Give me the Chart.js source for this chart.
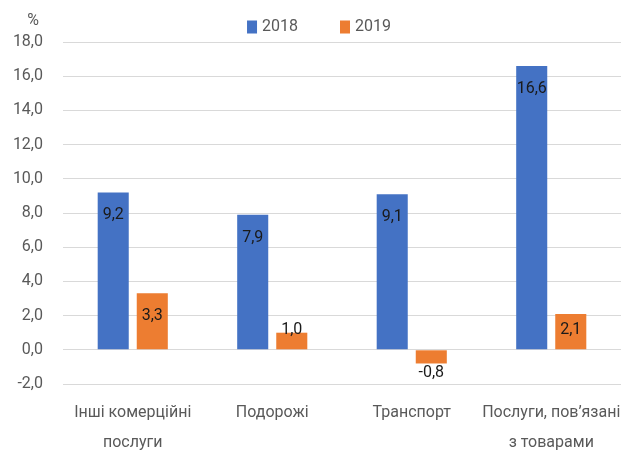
<!DOCTYPE html>
<html>
<head>
<meta charset="utf-8">
<script src="https://cdn.jsdelivr.net/npm/chart.js@4/dist/chart.umd.min.js"></script>
<style>
html,body{margin:0;padding:0;background:#fff;}
#wrap{width:621px;height:453px;position:relative;}
</style>
</head>
<body>
<div id="wrap"><canvas id="c" width="621" height="453"></canvas></div>
<script>
const categories = [["Інші комерційні","послуги"],["Подорожі"],["Транспорт"],["Послуги, пов’язані","з товарами"]];
const seriesNames = ["2018","2019"];
const values2018 = [9.2, 7.9, 9.1, 16.6];
const values2019 = [3.3, 1.0, -0.8, 2.1];
const yTicks = [-2, 0, 2, 4, 6, 8, 10, 12, 14, 16, 18];
const unitLabel = "%";

const FONT = "'Liberation Sans Narrow', 'Roboto', sans-serif";
const TXT = "#595959";
const fmt = v => v.toFixed(1).replace('.', ',');

const overlay = {
  id: 'overlay',
  afterDatasetsDraw(chart) {
    const ctx = chart.ctx;
    const y0 = chart.scales.y.getPixelForValue(0);
    ctx.save();
    ctx.font = "16px " + FONT;
    ctx.fillStyle = "#1a1a1a";
    ctx.textAlign = "center";
    ctx.textBaseline = "middle";
    chart.data.datasets.forEach((ds, di) => {
      const meta = chart.getDatasetMeta(di);
      meta.data.forEach((bar, i) => {
        const v = ds.data[i];
        let y;
        if (v >= 0) y = Math.min(bar.y + 23, y0 - 20);
        else y = bar.y + 10;
        ctx.fillText(fmt(v), bar.x, y);
      });
    });
    ctx.restore();
  },
  afterDraw(chart) {
    const ctx = chart.ctx;
    ctx.save();
    ctx.font = "16px " + FONT;
    ctx.textBaseline = "middle";
    ctx.fillStyle = TXT;
    ctx.textAlign = "center";
    ctx.fillText(unitLabel, 33, 21);
    ctx.textAlign = "left";
    const boxW = 10, boxH = 13, gapText = 5, gapItem = 42;
    const items = chart.data.datasets.map(d => ({label: d.label, color: d.backgroundColor, w: ctx.measureText(d.label).width}));
    let total = 0;
    items.forEach((it, i) => { total += boxW + gapText + it.w + (i < items.length - 1 ? gapItem : 0); });
    let x = 319 - total / 2;
    const cy = 27;
    items.forEach(it => {
      ctx.fillStyle = it.color;
      ctx.fillRect(x, cy - boxH / 2, boxW, boxH);
      ctx.fillStyle = TXT;
      ctx.fillText(it.label, x + boxW + gapText, cy);
      x += boxW + gapText + it.w + gapItem;
    });
    ctx.restore();
  }
};

new Chart(document.getElementById('c'), {
  type: 'bar',
  data: {
    labels: categories,
    datasets: [
      {label: seriesNames[0], data: values2018, backgroundColor: '#4472C4', categoryPercentage: 0.56, barPercentage: 0.795},
      {label: seriesNames[1], data: values2019, backgroundColor: '#ED7D31', categoryPercentage: 0.56, barPercentage: 0.795}
    ]
  },
  options: {
    responsive: false,
    animation: false,
    devicePixelRatio: 1,
    layout: {padding: {top: 42, right: 0, bottom: 0, left: 0}},
    plugins: {legend: {display: false}, tooltip: {enabled: false}},
    scales: {
      x: {
        grid: {display: false, drawTicks: false},
        border: {display: false},
        ticks: {color: TXT, font: {family: FONT, size: 16, lineHeight: '30px'}, padding: 14, maxRotation: 0, autoSkip: false},
        afterFit(s) { s.height = 69; s.paddingLeft = 0; s.paddingRight = 0; }
      },
      y: {
        min: -2, max: 18,
        afterBuildTicks(s) { s.ticks = yTicks.map(v => ({value: v})); },
        grid: {color: '#d9d9d9', lineWidth: 1, drawTicks: false},
        border: {display: false},
        ticks: {color: TXT, font: {family: FONT, size: 16}, padding: 20, callback: v => fmt(v)},
        afterFit(s) { s.width = 63; s.paddingTop = 0; s.paddingBottom = 0; }
      }
    }
  },
  plugins: [overlay]
});
</script>
</body>
</html>
